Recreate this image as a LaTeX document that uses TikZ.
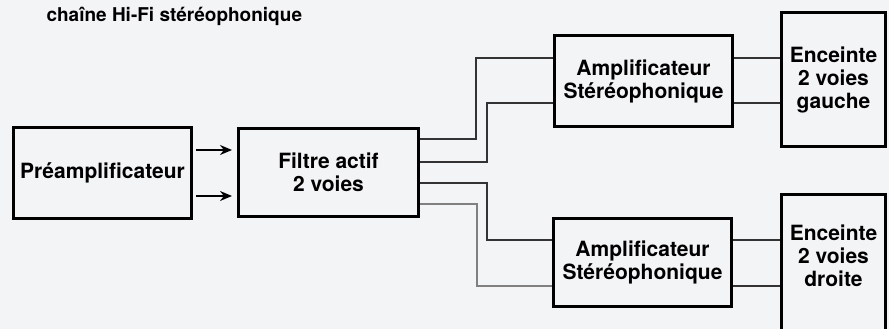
\documentclass[tikz,border=0pt]{standalone}
\usepackage{fontspec}
\setmainfont{TeX Gyre Heros}
\usetikzlibrary{arrows.meta}
\definecolor{paper}{RGB}{243,244,246}
\begin{document}
\begin{tikzpicture}[
        x=1pt, y=-1pt,
        >={Stealth[length=12pt,width=10pt]},
        every node/.style={font=\fontsize{21}{23}\selectfont\bfseries},
        block/.style={draw=black,line width=3pt,align=center,inner sep=0pt},
        wire/.style={line width=1.1pt,black!80},
        feed/.style={line width=1.6pt,->,shorten <=3pt,shorten >=5pt}
    ]

    % Page
    \useasboundingbox (0,0) rectangle (889,329);
    \fill[paper] (0,0) rectangle (889,329);

    % Title
    \node[anchor=west,font=\fontsize{19}{22}\selectfont\bfseries] (title)
        at (43,16) {chaîne Hi-Fi stéréophonique};

    % Blocks
    \node[block,minimum width=178,minimum height=91] (preamp)
        at (102.5,173) {Préamplificateur};
    \node[block,minimum width=180,minimum height=88] (filtre)
        at (328.5,172.5) {Filtre actif\\2 voies};
    \node[block,minimum width=178,minimum height=91] (ampG)
        at (643.5,81) {Amplificateur\\Stéréophonique};
    \node[block,minimum width=178,minimum height=88] (ampD)
        at (642.5,262.5) {Amplificateur\\Stéréophonique};
    \node[block,minimum width=104,minimum height=134] (encG)
        at (833.5,79.5) {Enceinte\\2 voies\\gauche};
    \node[block,minimum width=104,minimum height=160] (encD)
        at (833.5,274.5) {};
    \node[align=center] (encDtxt) at (833.5,256) {Enceinte\\2 voies\\droite};

    % Preamp to filter
    \draw[feed] (preamp.east |- 0,150) -- (filtre.west |- 0,150);
    \draw[feed] (preamp.east |- 0,196) -- (filtre.west |- 0,196);

    % Filter to amplifiers
    \draw[wire] (filtre.east |- 0,139) -| (476,58) -- (ampG.west |- 0,58);
    \draw[wire] (filtre.east |- 0,162) -| (487,103) -- (ampG.west |- 0,103);
    \draw[wire] (filtre.east |- 0,183) -| (487,240) -- (ampD.west |- 0,240);
    \draw[wire,gray] (filtre.east |- 0,204) -| (477,286) -- (ampD.west |- 0,286);

    % Amplifiers to speakers
    \draw[wire] (ampG.east |- 0,58) -- (encG.west |- 0,58);
    \draw[wire] (ampG.east |- 0,103) -- (encG.west |- 0,103);
    \draw[wire] (ampD.east |- 0,240) -- (encD.west |- 0,240);
    \draw[wire] (ampD.east |- 0,286) -- (encD.west |- 0,286);

\end{tikzpicture}
\end{document}
